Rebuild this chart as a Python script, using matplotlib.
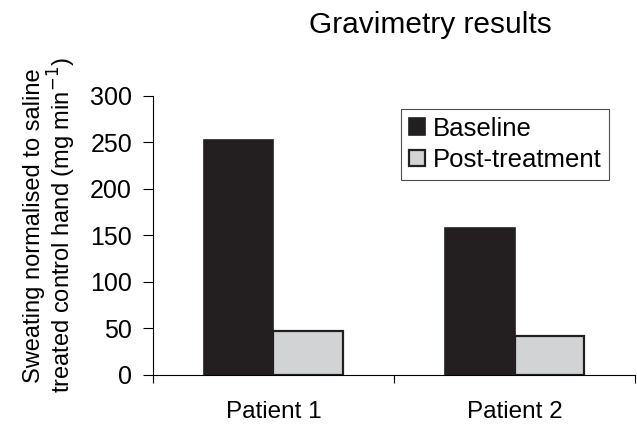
import numpy as np
import matplotlib.pyplot as plt
from matplotlib.ticker import FixedLocator

plt.rcParams['font.family'] = ['Liberation Sans', 'DejaVu Sans']

# Données
patients = ['Patient 1', 'Patient 2']
baseline = [252, 158]
post_treatment = [47, 42]
y_ticks = [0, 50, 100, 150, 200, 250, 300]

x = np.arange(len(patients))
width = 0.29

fig = plt.figure(figsize=(6.37, 4.26), dpi=100)
ax = fig.add_axes([0.240, 0.120, 0.757, 0.655])

ax.bar(x - width / 2, baseline, width, color='#231f20', edgecolor='#231f20',
       linewidth=1.2, label='Baseline')
ax.bar(x + width / 2, post_treatment, width, color='#d1d3d4', edgecolor='#231f20',
       linewidth=1.6, label='Post-treatment')

ax.set_xlim(-0.5, 1.5)
ax.set_ylim(0, 300)
ax.set_yticks(y_ticks)
ax.set_xticks(x)
ax.set_xticklabels(patients)
ax.xaxis.set_minor_locator(FixedLocator([-0.5, 0.5, 1.5]))
ax.tick_params(axis='x', which='major', length=0, pad=19, labelsize=17.5)
ax.tick_params(axis='x', which='minor', length=6, width=0.8, direction='out')
ax.tick_params(axis='y', length=7, width=0.8, direction='out', labelsize=18, pad=8)

for side in ['top', 'right']:
    ax.spines[side].set_visible(False)
ax.spines['left'].set_linewidth(0.8)
ax.spines['bottom'].set_linewidth(0.8)

ax.set_ylabel('Sweating normalised to saline\ntreated control hand (mg min$^{-1}$)',
              fontsize=17, multialignment='center', linespacing=1.0)
ax.yaxis.set_label_coords(-0.156, 0.536)

fig.text(0.675, 0.9225, 'Gravimetry results', ha='center', va='baseline', fontsize=21.5)

leg = ax.legend(loc='upper right', bbox_to_anchor=(0.946, 0.953), fontsize=18.5,
                frameon=True, fancybox=False, handlelength=0.62, handleheight=0.6,
                handletextpad=0.3, borderpad=0.3, labelspacing=0.3, borderaxespad=0)
leg.get_frame().set_edgecolor('#231f20')
leg.get_frame().set_linewidth(0.8)

fig.savefig('out.png', dpi=100)
